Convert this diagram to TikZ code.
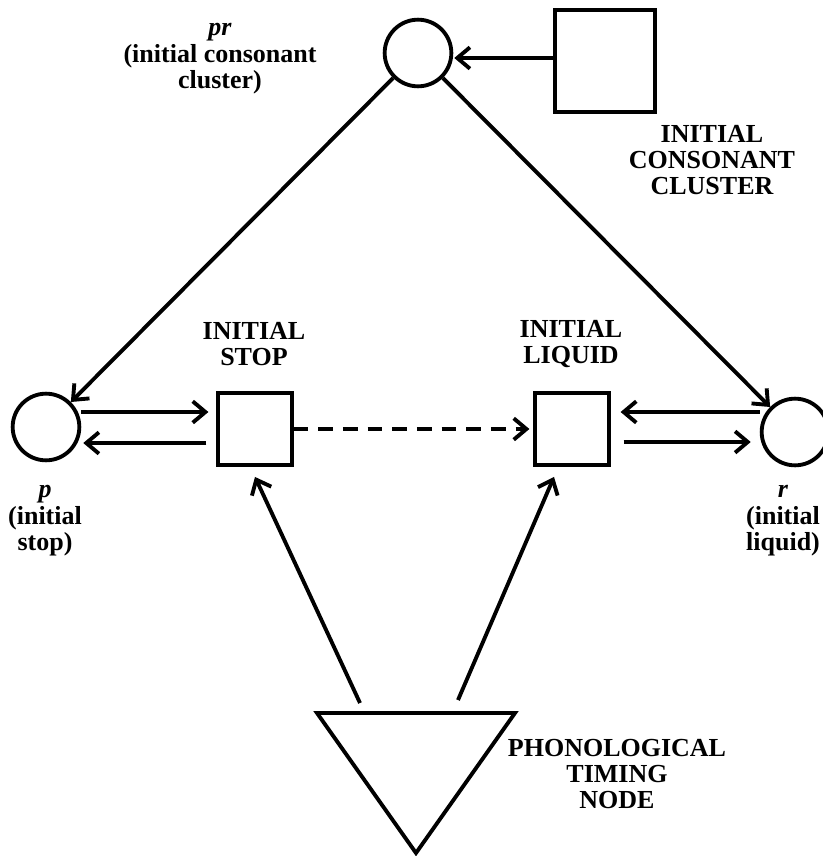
\documentclass[tikz,border=0pt]{standalone}
\usepackage{fontspec}
\setmainfont{Liberation Serif}
\usetikzlibrary{arrows.meta,calc}
\begin{document}
\begin{tikzpicture}[x=0.75pt,y=-0.75pt,
  every node/.style={font=\bfseries\fontsize{19.5}{19.8}\selectfont},
  circ/.style={draw,circle,line width=2.9pt,minimum size=50pt,inner sep=0pt},
  sq/.style={draw,rectangle,line width=2.9pt,minimum width=55pt,minimum height=54pt,inner sep=0pt},
  lbl/.style={align=center,inner sep=0pt},
  arr/.style={line width=2.9pt,-{Straight Barb[length=9.5pt,width=16pt,line width=2.9pt]}},
  dasharr/.style={arr,dash pattern=on 11pt off 7.5pt}
]
\useasboundingbox (0,0) rectangle (822,856);
% shapes
\node[circ] (pr) at (418,53) {};
\node[sq,minimum width=75pt,minimum height=77pt] (cl) at (605,61) {};
\node[circ] (p) at (46,427) {};
\node[sq] (stop) at (255,429) {};
\node[sq] (liq) at (572,429) {};
\node[circ] (r) at (795,432) {};
\draw[line width=2.9pt,line join=miter] (317,713) -- (515,713) -- (416,853) -- cycle;
\coordinate (tl) at (360,703);
\coordinate (tr) at (458,700);
% connectors
\draw[arr] ($(cl.west)+(0,-3)$) -- ($(pr.east)+(1,5)$);
\draw[arr] (pr) -- (p);
\draw[arr] (pr) -- (r);
\draw[arr] ($(p.east)+(0,-15)$) -- ($(stop.west)+(-8,-17)$);
\draw[arr] ($(stop.west)+(-10,14)$) -- ($(p.east)+(2,16)$);
\draw[dasharr] (stop.east) -- ($(liq.west)+(-4,0)$);
\draw[arr] ($(r.west)+(0,-20)$) -- ($(liq.east)+(10,-17)$);
\draw[arr] ($(liq.east)+(13,13)$) -- ($(r.west)+(-9,10)$);
\draw[arr] (tl) -- ($(stop.south)+(0,10)$);
\draw[arr] (tr) -- ($(liq.south)+(-18,10)$);
% labels
\node[lbl] (lpr) at (220,59) {\textit{pr}\\(initial consonant\\cluster)};
\node[lbl] (lcl) at (712,160) {INITIAL\\CONSONANT\\CLUSTER};
\node[lbl] (lstop) at (254,344) {INITIAL\\STOP};
\node[lbl] (lliq) at (571,344) {INITIAL\\LIQUID};
\node[lbl] (lp) at (45,521) {\textit{p}\\(initial\\stop)};
\node[lbl] (lr) at (783,521) {\textit{r}\\(initial\\liquid)};
\node[lbl] (lph) at (617,774) {PHONOLOGICAL\\TIMING\\NODE};
\end{tikzpicture}
\end{document}
